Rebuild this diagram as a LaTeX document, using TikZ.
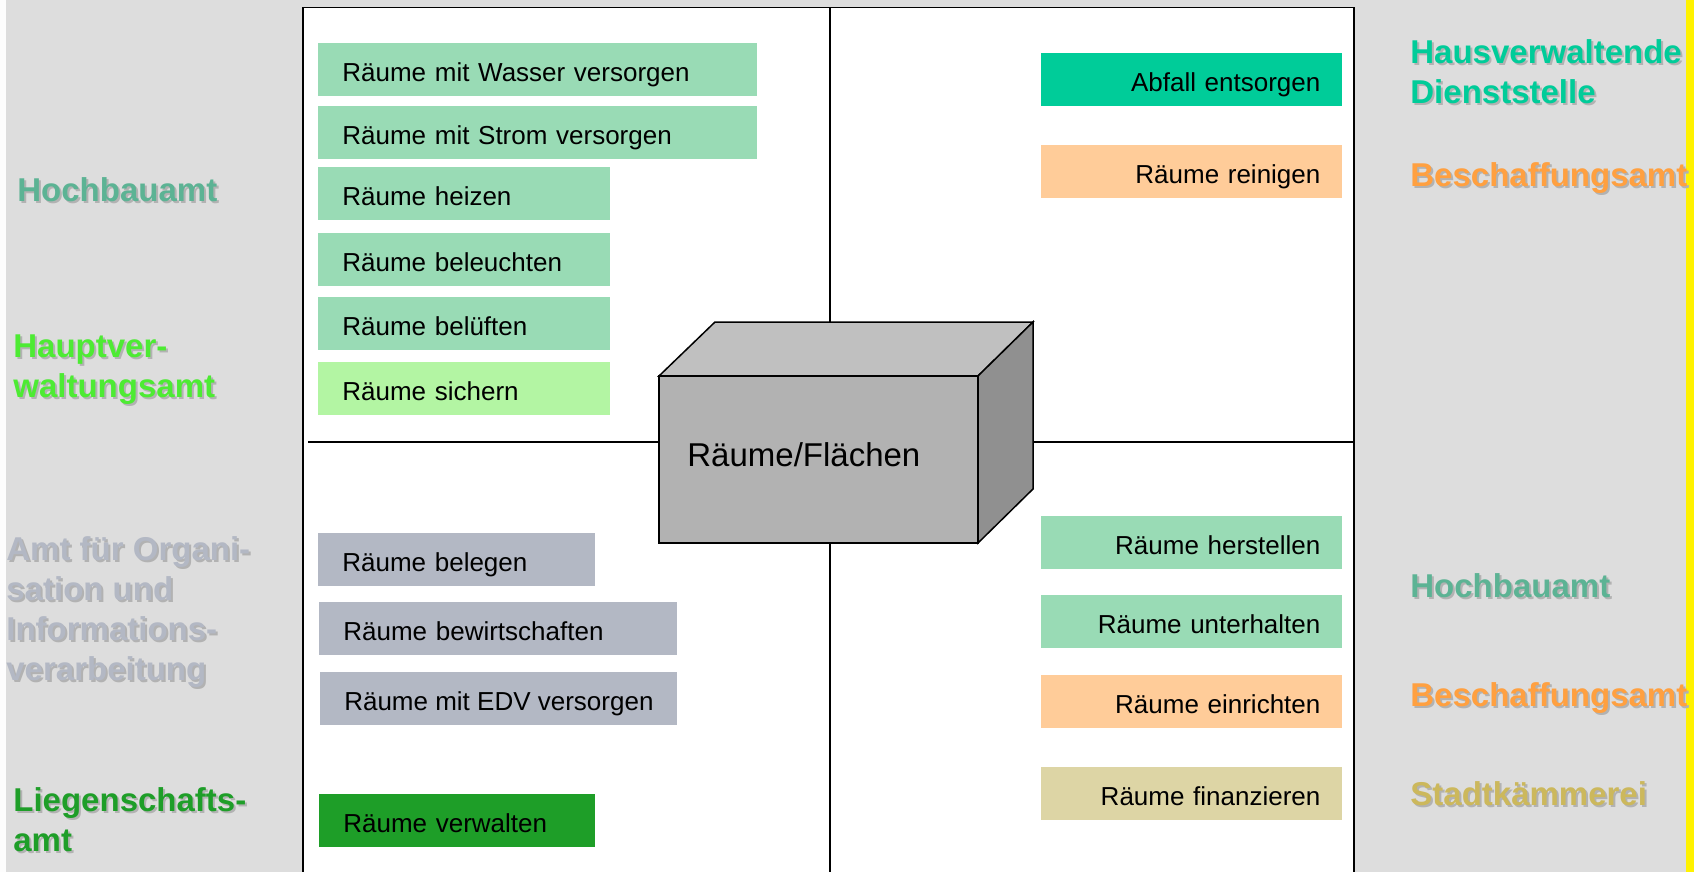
\documentclass[tikz,border=0pt]{standalone}
\usepackage{fontspec}
\setmainfont{Liberation Sans}
\usepackage{tikz}
\usetikzlibrary{positioning}
\definecolor{pagegray}{RGB}{221,221,221}
\definecolor{shadegray}{RGB}{178,178,178}
\definecolor{hbgreen}{RGB}{153,219,181}
\definecolor{hbtext}{RGB}{92,179,148}
\definecolor{hvgreen}{RGB}{179,245,163}
\definecolor{hvtext}{RGB}{77,235,51}
\definecolor{orgblue}{RGB}{179,184,196}
\definecolor{lggreen}{RGB}{30,158,40}
\definecolor{hdgreen}{RGB}{0,204,153}
\definecolor{bsorange}{RGB}{255,204,153}
\definecolor{bstext}{RGB}{255,160,64}
\definecolor{skbeige}{RGB}{221,213,165}
\definecolor{sktext}{RGB}{204,184,92}
\definecolor{cubetop}{RGB}{192,192,192}
\definecolor{cubefront}{RGB}{178,178,178}
\definecolor{cubeside}{RGB}{144,144,144}

% office label with its grey drop shadow
\newcommand{\amtnode}[4]{%
  \node[amt, text=shadegray, xshift=1pt, yshift=-1pt] (#1s) at (#2) {#4};
  \node[amt, text=#3] (#1) at (#2) {#4};}

\begin{document}
\begin{tikzpicture}[
    x=0.5pt, y=-0.5pt,
    box/.style={anchor=north west, minimum height=26.5pt, inner xsep=12pt, inner ysep=0pt,
      text height=11.5pt, text depth=0pt, font=\fontsize{13}{15}\selectfont, align=left},
    rbox/.style={box, inner xsep=11pt, text width=128.5pt, align=right},
    amt/.style={anchor=west, align=left, inner sep=0pt, font=\fontsize{16.5}{20}\selectfont\bfseries}
]
\clip (0,0) rectangle (1694,872);
\fill[pagegray] (0,0) rectangle (1694,872);
\fill[white!95!pagegray] (0,0) rectangle (6,872);
\fill[yellow] (1686,0) rectangle (1694,872);

% quadrants
\draw[fill=white, line width=0.75pt] (303,7.5) rectangle (1354,890);
\draw[line width=0.75pt] (830,7.5) -- (830,890);
\draw[line width=0.75pt] (308,442) -- (1354,442);

% left top
\node[box, fill=hbgreen, text width=195.5pt] (wasser) at (318,43) {Räume mit Wasser versorgen};
\node[box, fill=hbgreen, text width=195.5pt] (strom) at (318,106) {Räume mit Strom versorgen};
\node[box, fill=hbgreen, text width=122pt] (heizen) at (318,167) {Räume heizen};
\node[box, fill=hbgreen, text width=122pt] (licht) at (318,233) {Räume beleuchten};
\node[box, fill=hbgreen, text width=122pt] (luft) at (318,297) {Räume belüften};
\node[box, fill=hvgreen, text width=122pt] (sichern) at (318,362) {Räume sichern};

% left bottom
\node[box, fill=orgblue, text width=114.5pt] (belegen) at (318,533) {Räume belegen};
\node[box, fill=orgblue, text width=155pt] (bewirt) at (319,602) {Räume bewirtschaften};
\node[box, fill=orgblue, inner xsep=0pt, minimum width=178.5pt] (edv) at (320,672) {Räume mit EDV versorgen};
\node[box, fill=lggreen, text width=114pt] (verwalten) at (319,794) {Räume verwalten};

% right top
\node[rbox, fill=hdgreen] (abfall) at (1041,53) {Abfall entsorgen};
\node[rbox, fill=bsorange] (reinigen) at (1041,145) {Räume reinigen};

% right bottom
\node[rbox, fill=hbgreen] (herstellen) at (1041,516) {Räume herstellen};
\node[rbox, fill=hbgreen] (unterhalten) at (1041,595) {Räume unterhalten};
\node[rbox, fill=bsorange] (einrichten) at (1041,675) {Räume einrichten};
\node[rbox, fill=skbeige] (finanzieren) at (1041,767) {Räume finanzieren};

% the room block
\draw[fill=cubetop, line width=0.75pt] (659,376) -- (715,322) -- (1033,322) -- (978,376) -- cycle;
\draw[fill=cubeside, line width=0.75pt] (978,376) -- (1033,322) -- (1033,489) -- (978,543) -- cycle;
\draw[fill=cubefront, line width=0.75pt] (659,376) rectangle (978,543);
\node[anchor=west, inner sep=0pt, font=\fontsize{16.5}{20}\selectfont] (raum) at (687,455) {Räume/Flächen};

% offices, left
\amtnode{hochbau}{17,190}{hbtext}{Hochbauamt}
\amtnode{hauptamt}{13,370}{hvtext}{Hauptver-\\waltungsamt}
\amtnode{orgamt}{6,612}{orgblue}{Amt für Organi-\\sation und\\Informations-\\verarbeitung}
\amtnode{liegamt}{13,820}{lggreen}{Liegenschafts-\\amt}

% offices, right
\amtnode{hausamt}{1410,72}{hdgreen}{Hausverwaltende\\Dienststelle}
\amtnode{beschaffA}{1410,178}{bstext}{Beschaffungsamt}
\amtnode{hochbauR}{1410,586}{hbtext}{Hochbauamt}
\amtnode{beschaffB}{1410,698}{bstext}{Beschaffungsamt}
\amtnode{kaemmerei}{1410,794}{sktext}{Stadtkämmerei}
\end{tikzpicture}
\end{document}
